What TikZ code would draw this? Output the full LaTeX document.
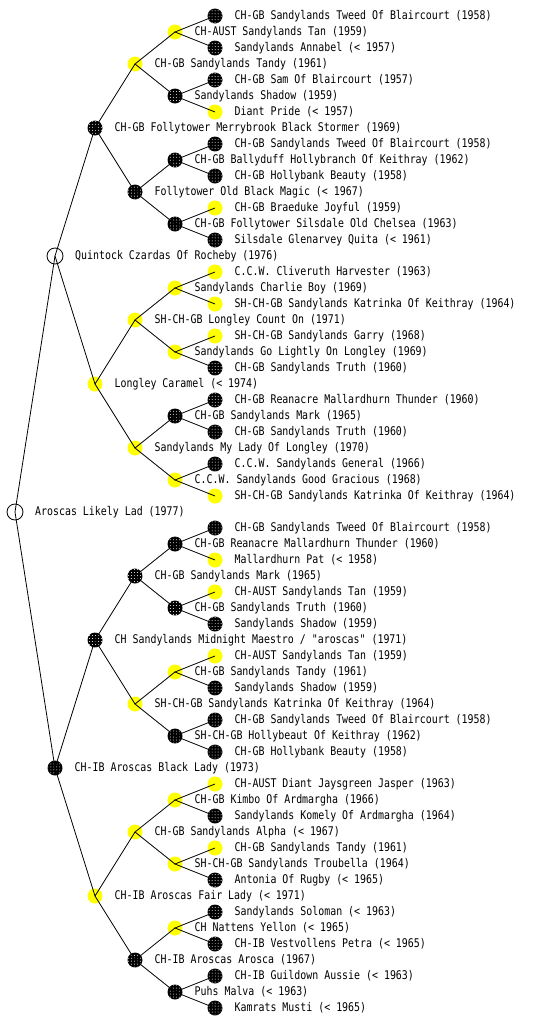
\documentclass[tikz,border=0pt]{standalone}
\usepackage{fontspec}
\newfontfamily\pedfont[FakeStretch=0.83]{DejaVu Sans Mono}
\usepackage{xcolor}
\definecolor{cCoatBlack}{HTML}{000000}
\definecolor{cCoatYellow}{HTML}{FFFF00}
\usetikzlibrary{patterns}
\tikzset{
  node-dog/.style={circle,minimum size=15bp,inner sep=0pt,outer sep=0pt},
  node-black/.style={node-dog,preaction={fill=cCoatBlack},
    pattern=dots,pattern color=white},
  node-yellow/.style={node-dog,fill=cCoatYellow},
  % unbekannte Farbe: weisser Kreis mit Punkt
  node-white/.style={node-dog,minimum size=16bp,draw=black,line width=0.8bp,
    fill=white,path picture={\fill (path picture bounding box.center) circle (0.7bp);}},
  ped-label/.style={font=\pedfont\fontsize{12}{14}\selectfont,inner sep=0pt,
    xshift=12bp},
  ped-line/.style={draw=black,line width=0.8bp},
}

\begin{document}
\begin{tikzpicture}[x=1bp,y=-1bp]
  \useasboundingbox (0,0) rectangle (560,1024);
  % Ahnentafel: s = Vater, d = Mutter
  \node[node-white,label={[ped-label]east:Aroscas Likely Lad (1977)}] (dog) at (15,512) {};
  \node[node-white,label={[ped-label]east:Quintock Czardas Of Rocheby (1976)}] (s) at (55,256) {};
  \node[node-black,label={[ped-label]east:CH-IB Aroscas Black Lady (1973)}] (d) at (55,768) {};

  \node[node-black,label={[ped-label]east:CH-GB Follytower Merrybrook Black Stormer (1969)}] (ss) at (95,128) {};
  \node[node-yellow,label={[ped-label]east:Longley Caramel (< 1974)}] (sd) at (95,384) {};
  \node[node-black,label={[ped-label]east:CH Sandylands Midnight Maestro / "aroscas" (1971)}] (ds) at (95,640) {};
  \node[node-yellow,label={[ped-label]east:CH-IB Aroscas Fair Lady (< 1971)}] (dd) at (95,896) {};

  \node[node-yellow,label={[ped-label]east:CH-GB Sandylands Tandy (1961)}] (sss) at (135,64) {};
  \node[node-black,label={[ped-label]east:Follytower Old Black Magic (< 1967)}] (ssd) at (135,192) {};
  \node[node-yellow,label={[ped-label]east:SH-CH-GB Longley Count On (1971)}] (sds) at (135,320) {};
  \node[node-yellow,label={[ped-label]east:Sandylands My Lady Of Longley (1970)}] (sdd) at (135,448) {};
  \node[node-black,label={[ped-label]east:CH-GB Sandylands Mark (1965)}] (dss) at (135,576) {};
  \node[node-yellow,label={[ped-label]east:SH-CH-GB Sandylands Katrinka Of Keithray (1964)}] (dsd) at (135,704) {};
  \node[node-yellow,label={[ped-label]east:CH-GB Sandylands Alpha (< 1967)}] (dds) at (135,832) {};
  \node[node-black,label={[ped-label]east:CH-IB Aroscas Arosca (1967)}] (ddd) at (135,960) {};

  \node[node-yellow,label={[ped-label]east:CH-AUST Sandylands Tan (1959)}] (ssss) at (175,32) {};
  \node[node-black,label={[ped-label]east:Sandylands Shadow (1959)}] (sssd) at (175,96) {};
  \node[node-black,label={[ped-label]east:CH-GB Ballyduff Hollybranch Of Keithray (1962)}] (ssds) at (175,160) {};
  \node[node-black,label={[ped-label]east:CH-GB Follytower Silsdale Old Chelsea (1963)}] (ssdd) at (175,224) {};
  \node[node-yellow,label={[ped-label]east:Sandylands Charlie Boy (1969)}] (sdss) at (175,288) {};
  \node[node-yellow,label={[ped-label]east:Sandylands Go Lightly On Longley (1969)}] (sdsd) at (175,352) {};
  \node[node-black,label={[ped-label]east:CH-GB Sandylands Mark (1965)}] (sdds) at (175,416) {};
  \node[node-yellow,label={[ped-label]east:C.C.W. Sandylands Good Gracious (1968)}] (sddd) at (175,480) {};
  \node[node-black,label={[ped-label]east:CH-GB Reanacre Mallardhurn Thunder (1960)}] (dsss) at (175,544) {};
  \node[node-black,label={[ped-label]east:CH-GB Sandylands Truth (1960)}] (dssd) at (175,608) {};
  \node[node-yellow,label={[ped-label]east:CH-GB Sandylands Tandy (1961)}] (dsds) at (175,672) {};
  \node[node-black,label={[ped-label]east:SH-CH-GB Hollybeaut Of Keithray (1962)}] (dsdd) at (175,736) {};
  \node[node-yellow,label={[ped-label]east:CH-GB Kimbo Of Ardmargha (1966)}] (ddss) at (175,800) {};
  \node[node-yellow,label={[ped-label]east:SH-CH-GB Sandylands Troubella (1964)}] (ddsd) at (175,864) {};
  \node[node-yellow,label={[ped-label]east:CH Nattens Yellon (< 1965)}] (ddds) at (175,928) {};
  \node[node-black,label={[ped-label]east:Puhs Malva (< 1963)}] (dddd) at (175,992) {};

  \node[node-black,label={[ped-label]east:CH-GB Sandylands Tweed Of Blaircourt (1958)}] (sssss) at (215,16) {};
  \node[node-black,label={[ped-label]east:Sandylands Annabel (< 1957)}] (ssssd) at (215,48) {};
  \node[node-black,label={[ped-label]east:CH-GB Sam Of Blaircourt (1957)}] (sssds) at (215,80) {};
  \node[node-yellow,label={[ped-label]east:Diant Pride (< 1957)}] (sssdd) at (215,112) {};
  \node[node-black,label={[ped-label]east:CH-GB Sandylands Tweed Of Blaircourt (1958)}] (ssdss) at (215,144) {};
  \node[node-black,label={[ped-label]east:CH-GB Hollybank Beauty (1958)}] (ssdsd) at (215,176) {};
  \node[node-yellow,label={[ped-label]east:CH-GB Braeduke Joyful (1959)}] (ssdds) at (215,208) {};
  \node[node-black,label={[ped-label]east:Silsdale Glenarvey Quita (< 1961)}] (ssddd) at (215,240) {};
  \node[node-yellow,label={[ped-label]east:C.C.W. Cliveruth Harvester (1963)}] (sdsss) at (215,272) {};
  \node[node-yellow,label={[ped-label]east:SH-CH-GB Sandylands Katrinka Of Keithray (1964)}] (sdssd) at (215,304) {};
  \node[node-yellow,label={[ped-label]east:SH-CH-GB Sandylands Garry (1968)}] (sdsds) at (215,336) {};
  \node[node-black,label={[ped-label]east:CH-GB Sandylands Truth (1960)}] (sdsdd) at (215,368) {};
  \node[node-black,label={[ped-label]east:CH-GB Reanacre Mallardhurn Thunder (1960)}] (sddss) at (215,400) {};
  \node[node-black,label={[ped-label]east:CH-GB Sandylands Truth (1960)}] (sddsd) at (215,432) {};
  \node[node-black,label={[ped-label]east:C.C.W. Sandylands General (1966)}] (sddds) at (215,464) {};
  \node[node-yellow,label={[ped-label]east:SH-CH-GB Sandylands Katrinka Of Keithray (1964)}] (sdddd) at (215,496) {};
  \node[node-black,label={[ped-label]east:CH-GB Sandylands Tweed Of Blaircourt (1958)}] (dssss) at (215,528) {};
  \node[node-yellow,label={[ped-label]east:Mallardhurn Pat (< 1958)}] (dsssd) at (215,560) {};
  \node[node-yellow,label={[ped-label]east:CH-AUST Sandylands Tan (1959)}] (dssds) at (215,592) {};
  \node[node-black,label={[ped-label]east:Sandylands Shadow (1959)}] (dssdd) at (215,624) {};
  \node[node-yellow,label={[ped-label]east:CH-AUST Sandylands Tan (1959)}] (dsdss) at (215,656) {};
  \node[node-black,label={[ped-label]east:Sandylands Shadow (1959)}] (dsdsd) at (215,688) {};
  \node[node-black,label={[ped-label]east:CH-GB Sandylands Tweed Of Blaircourt (1958)}] (dsdds) at (215,720) {};
  \node[node-black,label={[ped-label]east:CH-GB Hollybank Beauty (1958)}] (dsddd) at (215,752) {};
  \node[node-yellow,label={[ped-label]east:CH-AUST Diant Jaysgreen Jasper (1963)}] (ddsss) at (215,784) {};
  \node[node-black,label={[ped-label]east:Sandylands Komely Of Ardmargha (1964)}] (ddssd) at (215,816) {};
  \node[node-yellow,label={[ped-label]east:CH-GB Sandylands Tandy (1961)}] (ddsds) at (215,848) {};
  \node[node-black,label={[ped-label]east:Antonia Of Rugby (< 1965)}] (ddsdd) at (215,880) {};
  \node[node-black,label={[ped-label]east:Sandylands Soloman (< 1963)}] (dddss) at (215,912) {};
  \node[node-black,label={[ped-label]east:CH-IB Vestvollens Petra (< 1965)}] (dddsd) at (215,944) {};
  \node[node-black,label={[ped-label]east:CH-IB Guildown Aussie (< 1963)}] (dddds) at (215,976) {};
  \node[node-black,label={[ped-label]east:Kamrats Musti (< 1965)}] (ddddd) at (215,1008) {};

  % Linien: Vater oben, Mutter unten
  \draw[ped-line] (s.center) -- (dog.center) -- (d.center);
  \draw[ped-line] (ss.center) -- (s.center) -- (sd.center);
  \draw[ped-line] (ds.center) -- (d.center) -- (dd.center);
  \draw[ped-line] (sss.center) -- (ss.center) -- (ssd.center);
  \draw[ped-line] (sds.center) -- (sd.center) -- (sdd.center);
  \draw[ped-line] (dss.center) -- (ds.center) -- (dsd.center);
  \draw[ped-line] (dds.center) -- (dd.center) -- (ddd.center);
  \draw[ped-line] (ssss.center) -- (sss.center) -- (sssd.center);
  \draw[ped-line] (ssds.center) -- (ssd.center) -- (ssdd.center);
  \draw[ped-line] (sdss.center) -- (sds.center) -- (sdsd.center);
  \draw[ped-line] (sdds.center) -- (sdd.center) -- (sddd.center);
  \draw[ped-line] (dsss.center) -- (dss.center) -- (dssd.center);
  \draw[ped-line] (dsds.center) -- (dsd.center) -- (dsdd.center);
  \draw[ped-line] (ddss.center) -- (dds.center) -- (ddsd.center);
  \draw[ped-line] (ddds.center) -- (ddd.center) -- (dddd.center);
  \draw[ped-line] (sssss.center) -- (ssss.center) -- (ssssd.center);
  \draw[ped-line] (sssds.center) -- (sssd.center) -- (sssdd.center);
  \draw[ped-line] (ssdss.center) -- (ssds.center) -- (ssdsd.center);
  \draw[ped-line] (ssdds.center) -- (ssdd.center) -- (ssddd.center);
  \draw[ped-line] (sdsss.center) -- (sdss.center) -- (sdssd.center);
  \draw[ped-line] (sdsds.center) -- (sdsd.center) -- (sdsdd.center);
  \draw[ped-line] (sddss.center) -- (sdds.center) -- (sddsd.center);
  \draw[ped-line] (sddds.center) -- (sddd.center) -- (sdddd.center);
  \draw[ped-line] (dssss.center) -- (dsss.center) -- (dsssd.center);
  \draw[ped-line] (dssds.center) -- (dssd.center) -- (dssdd.center);
  \draw[ped-line] (dsdss.center) -- (dsds.center) -- (dsdsd.center);
  \draw[ped-line] (dsdds.center) -- (dsdd.center) -- (dsddd.center);
  \draw[ped-line] (ddsss.center) -- (ddss.center) -- (ddssd.center);
  \draw[ped-line] (ddsds.center) -- (ddsd.center) -- (ddsdd.center);
  \draw[ped-line] (dddss.center) -- (ddds.center) -- (dddsd.center);
  \draw[ped-line] (dddds.center) -- (dddd.center) -- (ddddd.center);
\end{tikzpicture}
\end{document}
